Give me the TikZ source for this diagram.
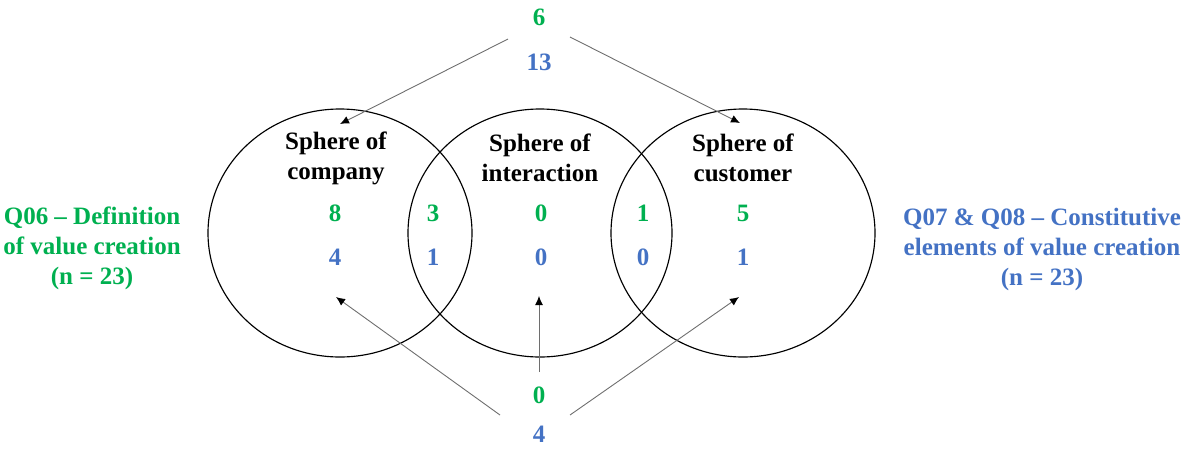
\documentclass[tikz,border=0pt]{standalone}
\usepackage{fontspec}
\setmainfont{Liberation Serif}
\usetikzlibrary{arrows.meta}
\definecolor{qgreen}{RGB}{0,176,80}
\definecolor{qblue}{RGB}{68,114,196}
\definecolor{lgray}{RGB}{110,110,110}
\begin{document}
\begin{tikzpicture}[x=1pt,y=-1pt,
  txt/.style={font=\fontsize{25}{30}\selectfont\bfseries, align=center, inner sep=0pt},
  gnum/.style={txt, text=qgreen},
  bnum/.style={txt, text=qblue},
  sphere/.style={draw=black, line width=1.15pt},
  pointer/.style={draw=lgray, line width=0.9pt, -{Latex[black,length=9pt,width=8pt]}}
]
\useasboundingbox (0,0) rectangle (1182,448);
% circles
\draw[sphere] (340,233) ellipse [x radius=132, y radius=124];
\draw[sphere] (540,233) ellipse [x radius=132, y radius=124];
\draw[sphere] (743,233) ellipse [x radius=132, y radius=124];
% sphere titles
\node[txt] (tcomp) at (336,158) {Sphere of\\company};
\node[txt] (tinter) at (540,158) {Sphere of\\interaction};
\node[txt] (tcust) at (743,158) {Sphere of\\customer};
% numbers
\node[gnum] (g8) at (335,213) {8};
\node[bnum] (b4) at (335,257) {4};
\node[gnum] (g3) at (433,213) {3};
\node[bnum] (b1a) at (433,257) {1};
\node[gnum] (g0) at (541,213) {0};
\node[bnum] (b0a) at (541,257) {0};
\node[gnum] (g1) at (643,213) {1};
\node[bnum] (b0b) at (643,257) {0};
\node[gnum] (g5) at (743,213) {5};
\node[bnum] (b1b) at (743,257) {1};
% top and bottom
\node[gnum] (top6) at (539,17) {6};
\node[bnum] (top13) at (539,62) {13};
\node[gnum] (bot0) at (539,395) {0};
\node[bnum] (bot4) at (539,434) {4};
% side labels
\node[txt, text=qgreen] (lq06) at (92,248) {Q06 -- Definition\\of value creation\\(n = 23)};
\node[txt, text=qblue] (rq07) at (1042,249) {Q07 \& Q08 -- Constitutive\\elements of value creation\\(n = 23)};
% pointer coordinates
\coordinate (tl) at (508,39);
\coordinate (tr) at (570,37);
\coordinate (tlend) at (340,124);
\coordinate (trend) at (740,123);
\coordinate (bl) at (500,415);
\coordinate (bm) at (539,372);
\coordinate (br) at (570,415);
\coordinate (blend) at (336,297);
\coordinate (bmend) at (539,296);
\coordinate (brend) at (739,297);
\draw[pointer] (tl) -- (tlend);
\draw[pointer] (tr) -- (trend);
\draw[pointer] (bl) -- (blend);
\draw[pointer] (bm) -- (bmend);
\draw[pointer] (br) -- (brend);
\end{tikzpicture}
\end{document}
